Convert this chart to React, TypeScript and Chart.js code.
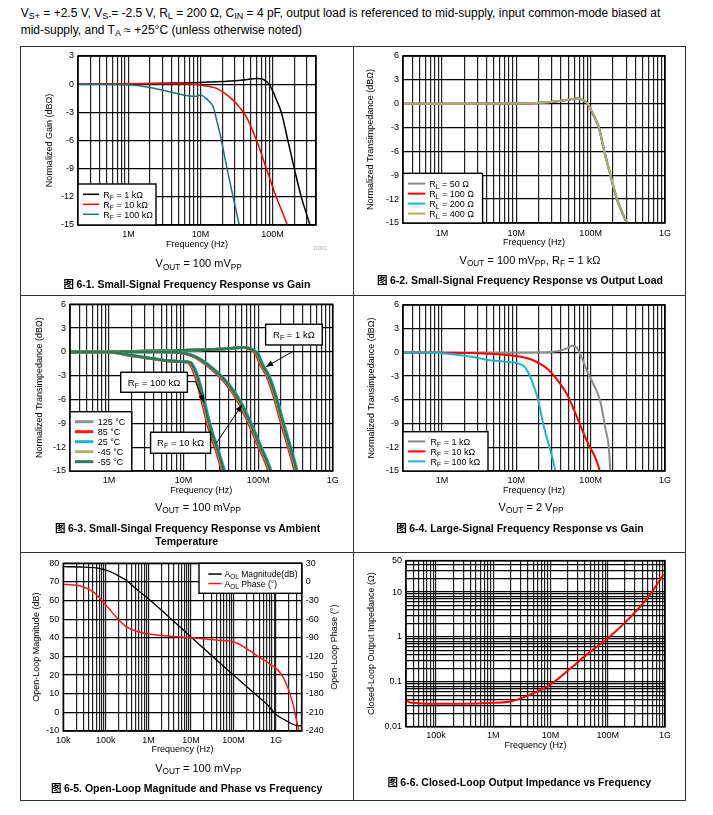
import React, { useEffect, useRef } from 'react';
import { Chart, registerables } from 'chart.js';

Chart.register(...registerables);

const FONT = '"Liberation Sans", Arial, Helvetica, sans-serif';
const CJK = '"Noto Sans CJK SC", "Liberation Sans", sans-serif';
Chart.defaults.font.family = FONT;
Chart.defaults.color = '#000';

const TICK_FS = 9;
const TITLE_FS = 9;

// ================= DATA =================
// Fig 6-1 Small-signal frequency response vs gain
const p1Rf1kFreq = [2e5, 1e6, 3e6, 1e7, 2e7, 3e7, 4.5e7, 6e7, 7e7, 8e7, 9e7, 1e8, 1.15e8, 1.32e8, 1.63e8, 2e8, 2.5e8, 3.3e8, 3.6e8];
const p1Rf1kGain = [0, 0.05, 0.1, 0.18, 0.28, 0.36, 0.5, 0.6, 0.57, 0.35, -0.05, -0.7, -1.8, -3, -6, -9, -12, -15, -16];
const p1Rf10kFreq = [2e5, 1e6, 5e6, 1e7, 1.67e7, 2.2e7, 2.83e7, 3.5e7, 4.34e7, 6e7, 8.2e7, 1.12e8, 1.6e8, 1.8e8];
const p1Rf10kGain = [0, 0.05, 0.05, -0.1, -0.45, -1, -1.7, -2.5, -3.5, -6, -9, -12, -15, -16.3];
const p1Rf100kFreq = [2e5, 5e5, 1e6, 2e6, 3e6, 5e6, 7e6, 8.5e6, 1e7, 1.15e7, 1.3e7, 1.5e7, 1.67e7, 1.86e7, 2.07e7, 2.41e7, 2.83e7, 3.45e7, 3.8e7];
const p1Rf100kGain = [0, -0.02, -0.07, -0.35, -0.65, -1.05, -1.25, -1.3, -1.15, -1.4, -1.8, -2.4, -3.8, -5.25, -7, -9.5, -12, -15, -16.5];
const p1XLabelVals = [1e6, 1e7, 1e8];
const p1XLabelText = ['1M', '10M', '100M'];

// Fig 6-2 Small-signal frequency response vs output load
const p2Freq = [3e5, 1e6, 1e7, 2e7, 4e7, 5.5e7, 6.6e7, 7.5e7, 8.5e7, 9e7, 1e8, 1.15e8, 1.29e8, 1.53e8, 1.85e8, 2.26e8, 3.07e8, 3.4e8];
const p2Rl50 = [0, 0, 0.03, 0.1, 0.35, 0.55, 0.62, 0.55, 0.25, 0.02, -0.75, -1.9, -3.05, -6.05, -9.05, -12.05, -15.05, -16];
const p2Rl100 = [0, 0, 0.03, 0.1, 0.36, 0.56, 0.64, 0.57, 0.28, 0.05, -0.7, -1.85, -3, -6, -9, -12, -15, -16];
const p2Rl200 = [0, 0, 0.03, 0.11, 0.37, 0.57, 0.65, 0.59, 0.3, 0.07, -0.68, -1.82, -2.97, -5.97, -8.97, -11.97, -14.97, -16];
const p2Rl400 = [0, 0, 0.03, 0.12, 0.38, 0.58, 0.66, 0.6, 0.32, 0.09, -0.65, -1.8, -2.95, -5.95, -8.95, -11.95, -14.95, -16];
const gXLabelVals = [1e6, 1e7, 1e8, 1e9];
const gXLabelText = ['1M', '10M', '100M', '1G'];

// Fig 6-3 Small-signal frequency response vs ambient temperature
const p3Rf1kFreq = [3e5, 1e6, 3e6, 1e7, 3e7, 5e7, 6.5e7, 8e7, 9.6e7, 1.12e8, 1.37e8, 1.69e8, 2.07e8, 2.54e8, 3.11e8, 3.4e8];
const p3Rf1kGain = [0, 0.02, 0.1, 0.2, 0.35, 0.5, 0.58, 0.35, -0.2, -1.6, -3.1, -5.6, -8.6, -11.5, -14.4, -16];
const p3Rf10kFreq = [3e5, 1e6, 5e6, 9e6, 1.3e7, 1.69e7, 2.54e7, 3.83e7, 5.46e7, 7.43e7, 1.01e8, 1.37e8, 1.6e8];
const p3Rf10kGain = [0, 0.02, 0, -0.1, -0.45, -1.0, -2.27, -3.95, -6.05, -8.56, -11.5, -14.4, -16.3];
const p3Rf100kFreq = [3e5, 1e6, 2.17e6, 3.6e6, 6.06e6, 9.1e6, 1.1e7, 1.24e7, 1.45e7, 1.69e7, 1.96e7, 2.29e7, 2.81e7, 3.38e7, 3.7e7];
const p3Rf100kGain = [0, -0.02, -0.5, -0.8, -1.1, -1.22, -1.25, -1.43, -2.7, -4.8, -7.3, -9.8, -12.3, -14.8, -16];
const p3Temps = ['125 °C', '85 °C', '25 °C', '-45 °C', '-55 °C'];
const p3TempColors = ['#8c8c8c', '#ff1a1a', '#19b6cc', '#b3ae72', '#2e7a55'];
const p3TempFreqScale = [0.985, 0.96, 1.04, 1.0, 1.015];
const p3NoteText = ['R_{F} = 1 kΩ', 'R_{F} = 100 kΩ', 'R_{F} = 10 kΩ'];
const p3NoteBoxFreq = [3.02e8, 4.02e6, 9.12e6];
const p3NoteBoxGain = [2.18, -3.82, -11.44];
const p3NotePathFreq = [[2.9e8, 1.28e8], [1.12e7, 1.45e7, 1.87e7], [2.75e7, 6.07e7]];
const p3NotePathGain = [[0.04, -1.86], [-3.74, -3.74, -6.33], [-11.5, -6.68]];

// Fig 6-4 Large-signal frequency response vs gain
const p4Rf1kFreq = [3e5, 1e6, 1e7, 3e7, 4.5e7, 5.7e7, 6.5e7, 7.3e7, 8e7, 9e7, 1.1e8, 1.35e8, 1.58e8, 1.76e8, 1.84e8, 1.9e8];
const p4Rf1kGain = [0, 0, 0, 0.05, 0.4, 0.85, 0.6, -0.3, -1.2, -2.4, -4.1, -6.2, -9.6, -12.1, -15, -16.5];
const p4Rf10kFreq = [3e5, 1e6, 3e6, 5.7e6, 1.17e7, 1.75e7, 2.64e7, 3.59e7, 4.87e7, 6.63e7, 9.01e7, 1.166e8, 1.33e8, 1.45e8];
const p4Rf10kGain = [0, -0.03, -0.1, -0.24, -0.54, -1.05, -2.1, -3.5, -5.4, -8.3, -11.3, -13.4, -15, -16.5];
const p4Rf100kFreq = [3e5, 1e6, 2.5e6, 4.2e6, 7e6, 1.05e7, 1.29e7, 1.58e7, 1.94e7, 2.38e7, 2.92e7, 3.35e7, 3.6e7];
const p4Rf100kGain = [0, -0.1, -0.55, -0.96, -1.17, -1.38, -1.8, -3.3, -5.8, -9.6, -12.6, -15, -16.5];

// Fig 6-5 Open-loop magnitude and phase
const p5MagFreq = [1e4, 3e4, 6e4, 1e5, 1.5e5, 2e5, 3e5, 5e5, 1e6, 1e7, 1e8, 3e8, 6e8, 1e9, 1.7e9, 3e9, 4e9];
const p5Mag = [78.2, 78, 77.5, 76.4, 74.8, 73.2, 71, 66.5, 61, 40.5, 20, 10.5, 4.5, -1.2, -4.4, -7, -7.2];
const p5PhaseFreq = [1e4, 2.9e4, 5e4, 1e5, 1.8e5, 3e5, 6.3e5, 1.1e6, 1e7, 3.9e7, 1.16e8, 3.4e8, 8.4e8, 1.2e9, 1.72e9, 2.46e9, 3.1e9, 3.6e9];
const p5Phase = [-3.8, -7.7, -15.7, -37, -57.6, -72, -81, -84.4, -89.8, -93.5, -97.8, -117.7, -135.4, -144.5, -163, -195, -227, -245];
const p5XLabelVals = [1e4, 1e5, 1e6, 1e7, 1e8, 1e9];
const p5XLabelText = ['10k', '100k', '1M', '10M', '100M', '1G'];

// Fig 6-6 Closed-loop output impedance
const p6Freq = [3e4, 3.3e4, 3.8e4, 5.5e4, 1e5, 3e5, 1e6, 2.1e6, 4.1e6, 1e7, 2.24e7, 4.46e7, 1e8, 2.24e8, 5e8, 9.3e8];
const p6Z = [0.043, 0.036, 0.034, 0.033, 0.0325, 0.0325, 0.034, 0.037, 0.05, 0.087, 0.2, 0.42, 0.93, 2.4, 7.5, 24];
const p6XLabelVals = [1e5, 1e6, 1e7, 1e8, 1e9];
const p6XLabelText = ['100k', '1M', '10M', '100M', '1G'];
const p6YLabelVals = [0.01, 0.1, 1, 10, 50];
const p6YLabelText = ['0.01', '0.1', '1', '10', '50'];

// ================= HELPERS =================
function decadeTicks(min: number, max: number): number[] {
  const out: number[] = [];
  const e0 = Math.floor(Math.log10(min));
  const e1 = Math.ceil(Math.log10(max));
  for (let e = e0; e <= e1; e++) {
    for (let m = 1; m <= 9; m++) {
      const v = parseFloat((m * Math.pow(10, e)).toPrecision(6));
      if (v >= min * 0.9999 && v <= max * 1.0001) out.push(v);
    }
  }
  return out;
}
function labelFor(v: number, vals: number[], texts: string[]) {
  const i = vals.findIndex((u) => Math.abs(u - v) / u < 1e-6);
  return i >= 0 ? texts[i] : '';
}
const pts = (xs: number[], ys: number[]) => xs.map((x, i) => ({ x, y: ys[i] }));

function parseRich(text: string) {
  const out: { t: string; sub: boolean }[] = [];
  const re = /_\{([^}]*)\}/g;
  let last = 0;
  let m: RegExpExecArray | null;
  while ((m = re.exec(text)) !== null) {
    if (m.index > last) out.push({ t: text.slice(last, m.index), sub: false });
    out.push({ t: m[1], sub: true });
    last = re.lastIndex;
  }
  if (last < text.length) out.push({ t: text.slice(last), sub: false });
  return out;
}
const fontStr = (fs: number) => `normal ${fs}px ${FONT}`;
function richWidth(ctx: CanvasRenderingContext2D, text: string, fs: number) {
  let w = 0;
  for (const p of parseRich(text)) {
    ctx.font = fontStr(p.sub ? fs * 0.75 : fs);
    w += ctx.measureText(p.t).width;
  }
  return w;
}
function drawRich(ctx: CanvasRenderingContext2D, text: string, x: number, baseline: number, fs: number, align: 'left' | 'center' = 'left') {
  let cx = align === 'center' ? x - richWidth(ctx, text, fs) / 2 : x;
  ctx.textAlign = 'left';
  ctx.textBaseline = 'alphabetic';
  for (const p of parseRich(text)) {
    const f = p.sub ? fs * 0.75 : fs;
    ctx.font = fontStr(f);
    ctx.fillText(p.t, cx, p.sub ? baseline + fs * 0.22 : baseline);
    cx += ctx.measureText(p.t).width;
  }
}

// ================= PLUGINS =================
const framePlugin = {
  id: 'frame',
  afterDatasetsDraw(chart: any) {
    const { ctx, chartArea: a } = chart;
    ctx.save();
    ctx.strokeStyle = '#000';
    ctx.lineWidth = 1.6;
    ctx.strokeRect(a.left, a.top, a.right - a.left, a.bottom - a.top);
    ctx.restore();
  },
};

const richLegendPlugin = {
  id: 'richLegend',
  afterDraw(chart: any, _args: any, o: any) {
    if (!o || !o.w) return;
    const ctx: CanvasRenderingContext2D = chart.ctx;
    const a = chart.chartArea;
    const items = chart.data.datasets.filter((d: any) => d.inLegend);
    const x = o.corner === 'tr' ? a.right - o.w : a.left;
    const y = o.corner === 'tr' ? a.top : a.bottom - o.h;
    ctx.save();
    ctx.fillStyle = '#fff';
    ctx.fillRect(x, y, o.w, o.h);
    ctx.strokeStyle = '#000';
    ctx.lineWidth = 1.4;
    ctx.strokeRect(x, y, o.w, o.h);
    items.forEach((d: any, i: number) => {
      const cy = y + o.padT + o.rowH * (i + 0.5);
      ctx.strokeStyle = d.borderColor;
      ctx.lineWidth = o.lineWidth;
      ctx.beginPath();
      ctx.moveTo(x + o.padL, cy);
      ctx.lineTo(x + o.padL + o.lineLen, cy);
      ctx.stroke();
      ctx.fillStyle = '#000';
      drawRich(ctx, d.label, x + o.padL + o.lineLen + o.gap, cy + o.fs * 0.36, o.fs);
    });
    ctx.restore();
  },
};

const notesPlugin = {
  id: 'notes',
  afterDraw(chart: any, _args: any, o: any) {
    const items = (o && o.items) || [];
    if (!items.length) return;
    const xs = chart.scales.x;
    const ys = chart.scales.y;
    const ctx: CanvasRenderingContext2D = chart.ctx;
    ctx.save();
    for (const n of items) {
      const path = n.pathF.map((f: number, i: number) => [xs.getPixelForValue(f), ys.getPixelForValue(n.pathG[i])]);
      ctx.strokeStyle = '#000';
      ctx.lineWidth = 1;
      ctx.beginPath();
      path.forEach(([px, py]: number[], i: number) => (i ? ctx.lineTo(px, py) : ctx.moveTo(px, py)));
      ctx.stroke();
      const [x2, y2] = path[path.length - 1];
      const [x1, y1] = path[path.length - 2];
      const ang = Math.atan2(y2 - y1, x2 - x1);
      const L = 7;
      const W = 3;
      ctx.fillStyle = '#000';
      ctx.beginPath();
      ctx.moveTo(x2, y2);
      ctx.lineTo(x2 - L * Math.cos(ang) + W * Math.sin(ang), y2 - L * Math.sin(ang) - W * Math.cos(ang));
      ctx.lineTo(x2 - L * Math.cos(ang) - W * Math.sin(ang), y2 - L * Math.sin(ang) + W * Math.cos(ang));
      ctx.closePath();
      ctx.fill();
      const cx = xs.getPixelForValue(n.f);
      const cy = ys.getPixelForValue(n.g);
      ctx.fillStyle = '#fff';
      ctx.fillRect(cx - n.w / 2, cy - n.h / 2, n.w, n.h);
      ctx.lineWidth = 1.4;
      ctx.strokeStyle = '#000';
      ctx.strokeRect(cx - n.w / 2, cy - n.h / 2, n.w, n.h);
      ctx.fillStyle = '#000';
      drawRich(ctx, n.text, cx, cy + 9.5 * 0.36, 9.5, 'center');
    }
    ctx.restore();
  },
};

const rightTitlePlugin = {
  id: 'rightTitle',
  afterDraw(chart: any, _args: any, o: any) {
    if (!o || !o.text) return;
    const ctx: CanvasRenderingContext2D = chart.ctx;
    const a = chart.chartArea;
    ctx.save();
    ctx.translate(o.x, (a.top + a.bottom) / 2);
    ctx.rotate(-Math.PI / 2);
    ctx.font = fontStr(TITLE_FS);
    ctx.fillStyle = '#000';
    ctx.textAlign = 'center';
    ctx.textBaseline = 'middle';
    ctx.fillText(o.text, 0, 0);
    ctx.restore();
  },
};

// ================= CONFIG BUILDER =================
type Geo = {
  cL: number; cT: number; cW: number; cH: number;
  pL: number; pT: number; pR: number; pB: number;
  yTitleX: number; xTitleY: number; xTickY: number; y2TitleX?: number;
};
type Spec = {
  geo: Geo;
  datasets: any[];
  xMin: number; xMax: number; xLabelVals: number[]; xLabelText: string[];
  yType: 'linear' | 'logarithmic'; yMin: number; yMax: number; yStep?: number;
  yLabelVals?: number[]; yLabelText?: string[]; yTitle: string;
  y2?: { min: number; max: number; step: number; title: string };
  legend: any;
  notes?: any[];
};

function zeroPad(sc: any) {
  sc.paddingLeft = 0;
  sc.paddingRight = 0;
  sc.paddingTop = 0;
  sc.paddingBottom = 0;
}

function buildConfig(s: Spec): any {
  const g = s.geo;
  const tlh = TITLE_FS * 1.2;
  const klh = TICK_FS * 1.2;
  const xH = g.xTitleY + tlh / 2 - g.pB;
  const yW = g.pL - g.cL;
  const rightW = g.cL + g.cW - g.pR;
  const scales: any = {
    x: {
      type: 'logarithmic',
      min: s.xMin,
      max: s.xMax,
      afterBuildTicks: (sc: any) => {
        sc.ticks = decadeTicks(s.xMin, s.xMax).map((v) => ({ value: v }));
      },
      afterFit: (sc: any) => {
        sc.height = xH;
        zeroPad(sc);
      },
      grid: { color: '#222', lineWidth: 1.2, drawTicks: false },
      border: { display: false },
      ticks: {
        autoSkip: false,
        maxRotation: 0,
        minRotation: 0,
        padding: g.xTickY - g.pB - klh / 2,
        font: { size: TICK_FS },
        color: '#000',
        callback: (v: any) => labelFor(Number(v), s.xLabelVals, s.xLabelText),
      },
      title: { display: true, text: 'Frequency (Hz)', font: { size: TITLE_FS }, color: '#000', padding: { top: 0, bottom: 0 } },
    },
    y: {
      type: s.yType,
      position: 'left',
      min: s.yMin,
      max: s.yMax,
      afterFit: (sc: any) => {
        sc.width = yW;
        zeroPad(sc);
      },
      grid: { color: '#000', lineWidth: 1.3, drawTicks: false },
      border: { display: false },
      ticks: {
        autoSkip: false,
        padding: 4,
        font: { size: TICK_FS },
        color: '#000',
        stepSize: s.yStep,
        callback: (v: any) =>
          s.yType === 'logarithmic' ? labelFor(Number(v), s.yLabelVals || [], s.yLabelText || []) : String(v),
      },
      title: {
        display: true,
        text: s.yTitle,
        font: { size: TITLE_FS },
        color: '#000',
        padding: { top: g.yTitleX - g.cL - tlh / 2, bottom: 0 },
      },
    },
  };
  if (s.yType === 'logarithmic') {
    scales.y.afterBuildTicks = (sc: any) => {
      sc.ticks = decadeTicks(s.yMin, s.yMax).map((v) => ({ value: v }));
    };
  }
  if (s.y2) {
    const y2 = s.y2;
    scales.y2 = {
      type: 'linear',
      position: 'right',
      min: y2.min,
      max: y2.max,
      afterFit: (sc: any) => {
        sc.width = rightW;
        zeroPad(sc);
      },
      grid: { display: false, drawTicks: false },
      border: { display: false },
      ticks: { autoSkip: false, padding: 4, stepSize: y2.step, font: { size: TICK_FS }, color: '#000', callback: (v: any) => String(v) },
      title: { display: false },
    };
  }
  return {
    type: 'line',
    data: { datasets: s.datasets },
    options: {
      responsive: false,
      maintainAspectRatio: false,
      animation: false,
      events: [],
      layout: {
        padding: {
          left: 0,
          top: g.pT - g.cT,
          right: s.y2 ? 0 : rightW,
          bottom: g.cT + g.cH - (g.pB + xH),
        },
      },
      elements: {
        point: { radius: 0 },
        line: { cubicInterpolationMode: 'monotone', borderCapStyle: 'round', borderJoinStyle: 'round' },
      },
      plugins: {
        legend: { display: false },
        tooltip: { enabled: false },
        richLegend: s.legend,
        notes: { items: s.notes || [] },
        rightTitle: s.y2 && g.y2TitleX ? { text: s.y2.title, x: g.y2TitleX - g.cL } : { text: '' },
      },
      scales,
    },
    plugins: [framePlugin, richLegendPlugin, notesPlugin, rightTitlePlugin],
  };
}

function ds(label: string, xs: number[], ys: number[], color: string, width: number, idx: number, inLegend = true, extra: any = {}) {
  return { label, data: pts(xs, ys), borderColor: color, borderWidth: width, fill: false, order: -idx, inLegend, ...extra };
}

// ================= PANEL SPECS =================
const spec1: Spec = {
  geo: { cL: 22, cT: 48, cW: 330, cH: 246, pL: 78, pT: 56, pR: 316, pB: 225, yTitleX: 50, xTitleY: 245, xTickY: 235 },
  datasets: [
    ds('R_{F} = 1 kΩ', p1Rf1kFreq, p1Rf1kGain, '#000000', 1.5, 0),
    ds('R_{F} = 10 kΩ', p1Rf10kFreq, p1Rf10kGain, '#ff0000', 1.5, 1),
    ds('R_{F} = 100 kΩ', p1Rf100kFreq, p1Rf100kGain, '#23707f', 1.5, 2),
  ],
  xMin: 2e5, xMax: 4e8, xLabelVals: p1XLabelVals, xLabelText: p1XLabelText,
  yType: 'linear', yMin: -15, yMax: 3, yStep: 3, yTitle: 'Normalized Gain (dBΩ)',
  legend: { corner: 'bl', w: 78, h: 41, padT: 5.3, rowH: 10, padL: 5, lineLen: 16, gap: 4.3, fs: 9, lineWidth: 1.5 },
};

const spec2: Spec = {
  geo: { cL: 355, cT: 48, cW: 329, cH: 246, pL: 403, pT: 56, pR: 665, pB: 223, yTitleX: 370.7, xTitleY: 242.3, xTickY: 233.3 },
  datasets: [
    ds('R_{L} = 50 Ω', p2Freq, p2Rl50, '#8c8c8c', 2, 0),
    ds('R_{L} = 100 Ω', p2Freq, p2Rl100, '#ff0000', 2, 1),
    ds('R_{L} = 200 Ω', p2Freq, p2Rl200, '#19b6cc', 2, 2),
    ds('R_{L} = 400 Ω', p2Freq, p2Rl400, '#b0ab6c', 2, 3),
  ],
  xMin: 3e5, xMax: 1e9, xLabelVals: gXLabelVals, xLabelText: gXLabelText,
  yType: 'linear', yMin: -15, yMax: 6, yStep: 3, yTitle: 'Normalized Transimpedance (dBΩ)',
  legend: { corner: 'bl', w: 79.6, h: 49.7, padT: 5.3, rowH: 10, padL: 5, lineLen: 17.3, gap: 4, fs: 9, lineWidth: 2 },
};

const p3Groups = [
  { f: p3Rf1kFreq, g: p3Rf1kGain },
  { f: p3Rf10kFreq, g: p3Rf10kGain },
  { f: p3Rf100kFreq, g: p3Rf100kGain },
];
const p3Datasets: any[] = [];
p3Groups.forEach((grp, gi) => {
  p3Temps.forEach((t, ti) => {
    p3Datasets.push(
      ds(t, grp.f.map((f) => f * p3TempFreqScale[ti]), grp.g, p3TempColors[ti], 2.8, gi * 5 + ti, gi === 0)
    );
  });
});

const spec3: Spec = {
  geo: { cL: 22, cT: 297, cW: 330, cH: 254, pL: 70, pT: 304.3, pR: 332.7, pB: 471, yTitleX: 39.3, xTitleY: 490.7, xTickY: 481 },
  datasets: p3Datasets,
  xMin: 3e5, xMax: 1e9, xLabelVals: gXLabelVals, xLabelText: gXLabelText,
  yType: 'linear', yMin: -15, yMax: 6, yStep: 3, yTitle: 'Normalized Transimpedance (dBΩ)',
  legend: { corner: 'bl', w: 61.7, h: 59.3, padT: 5, rowH: 10, padL: 5, lineLen: 18.3, gap: 4.4, fs: 9, lineWidth: 3 },
  notes: p3NoteText.map((text, i) => ({
    text,
    f: p3NoteBoxFreq[i],
    g: p3NoteBoxGain[i],
    w: [56.6, 66.7, 60][i],
    h: [20.7, 20, 21][i],
    pathF: p3NotePathFreq[i],
    pathG: p3NotePathGain[i],
  })),
};

const spec4: Spec = {
  geo: { cL: 355, cT: 297, cW: 329, cH: 254, pL: 403, pT: 305, pR: 665, pB: 471, yTitleX: 371.7, xTitleY: 491, xTickY: 480.7 },
  datasets: [
    ds('R_{F} = 1 kΩ', p4Rf1kFreq, p4Rf1kGain, '#8c8c8c', 2, 0),
    ds('R_{F} = 10 kΩ', p4Rf10kFreq, p4Rf10kGain, '#ff0000', 2, 1),
    ds('R_{F} = 100 kΩ', p4Rf100kFreq, p4Rf100kGain, '#19b6cc', 2, 2),
  ],
  xMin: 3e5, xMax: 1e9, xLabelVals: gXLabelVals, xLabelText: gXLabelText,
  yType: 'linear', yMin: -15, yMax: 6, yStep: 3, yTitle: 'Normalized Transimpedance (dBΩ)',
  legend: { corner: 'bl', w: 85, h: 39.3, padT: 4.7, rowH: 10, padL: 5, lineLen: 17.3, gap: 5.3, fs: 9, lineWidth: 2 },
};

const spec5: Spec = {
  geo: { cL: 22, cT: 554, cW: 330, cH: 245, pL: 63.3, pT: 563.3, pR: 301.7, pB: 731, yTitleX: 36.7, xTitleY: 749.3, xTickY: 741, y2TitleX: 335 },
  datasets: [
    ds('A_{OL} Magnitude(dB)', p5MagFreq, p5Mag, '#000000', 1.3, 0, true, { yAxisID: 'y' }),
    ds('A_{OL} Phase (°)', p5PhaseFreq, p5Phase, '#ff1a1a', 1.5, 1, true, { yAxisID: 'y2' }),
  ],
  xMin: 1e4, xMax: 4e9, xLabelVals: p5XLabelVals, xLabelText: p5XLabelText,
  yType: 'linear', yMin: -10, yMax: 80, yStep: 10, yTitle: 'Open-Loop Magnitude (dB)',
  y2: { min: -240, max: 30, step: 30, title: 'Open-Loop Phase (°)' },
  legend: { corner: 'tr', w: 102.7, h: 30, padT: 6, rowH: 9.5, padL: 9.3, lineLen: 13.4, gap: 2.8, fs: 8.6, lineWidth: 1.5 },
};

const spec6: Spec = {
  geo: { cL: 355, cT: 554, cW: 329, cH: 245, pL: 406, pT: 560.7, pR: 665, pB: 726.7, yTitleX: 371.7, xTitleY: 745.3, xTickY: 735.7 },
  datasets: [ds('Z', p6Freq, p6Z, '#ff0000', 2, 0, false)],
  xMin: 3e4, xMax: 1e9, xLabelVals: p6XLabelVals, xLabelText: p6XLabelText,
  yType: 'logarithmic', yMin: 0.01, yMax: 50, yLabelVals: p6YLabelVals, yLabelText: p6YLabelText,
  yTitle: 'Closed-Loop Output Impedance (Ω)',
  legend: null,
};

// ================= COMPONENTS =================
function ChartCanvas({ spec }: { spec: Spec }) {
  const ref = useRef<HTMLCanvasElement>(null);
  useEffect(() => {
    const chart = new Chart(ref.current as HTMLCanvasElement, buildConfig(spec));
    return () => chart.destroy();
  }, []);
  const g = spec.geo;
  return (
    <canvas
      ref={ref}
      width={g.cW}
      height={g.cH}
      style={{ position: 'absolute', left: g.cL, top: g.cT, width: g.cW, height: g.cH }}
    />
  );
}

function Rich({ text }: { text: string }) {
  return (
    <>
      {parseRich(text).map((p, i) =>
        p.sub ? (
          <span key={i} style={{ fontSize: '0.75em', position: 'relative', top: '0.28em' }}>{p.t}</span>
        ) : (
          <span key={i}>{p.t}</span>
        )
      )}
    </>
  );
}

function TextAt({ x, y, size, bold, align = 'center', color = '#000', text, fig }: any) {
  return (
    <div
      style={{
        position: 'absolute',
        left: x,
        top: y - size * 0.6,
        height: size * 1.2,
        lineHeight: `${size * 1.2}px`,
        fontSize: size,
        fontFamily: FONT,
        fontWeight: bold ? 'bold' : 'normal',
        whiteSpace: 'nowrap',
        color,
        transform: align === 'center' ? 'translateX(-50%)' : undefined,
      }}
    >
      {fig ? <span style={{ fontFamily: CJK, fontWeight: 'bold' }}>图 </span> : null}
      <Rich text={text} />
    </div>
  );
}

function Line({ x, y, w, h }: any) {
  return <div style={{ position: 'absolute', left: x, top: y, width: w, height: h, background: '#333' }} />;
}

export default function App() {
  return (
    <div style={{ position: 'absolute', left: 0, top: 0, width: 713, height: 815, background: '#fff', overflow: 'hidden' }}>
      <TextAt x={20.7} y={13} size={12} align="left"
        text="V_{S+} = +2.5 V, V_{S-}= -2.5 V, R_{L} = 200 Ω, C_{IN} = 4 pF, output load is referenced to mid-supply, input common-mode biased at" />
      <TextAt x={20.7} y={30} size={12} align="left" text="mid-supply, and T_{A} ≈ +25°C (unless otherwise noted)" />

      <Line x={20} y={46} w={666} h={1} />
      <Line x={20} y={295} w={666} h={1} />
      <Line x={20} y={552} w={666} h={1} />
      <Line x={20} y={800} w={666} h={1} />
      <Line x={20} y={46} w={1} h={755} />
      <Line x={353} y={46} w={1} h={755} />
      <Line x={685} y={46} w={1} h={755} />

      <ChartCanvas spec={spec1} />
      <ChartCanvas spec={spec2} />
      <ChartCanvas spec={spec3} />
      <ChartCanvas spec={spec4} />
      <ChartCanvas spec={spec5} />
      <ChartCanvas spec={spec6} />

      <TextAt x={320.5} y={249} size={6} color="#b0b0b0" text="D001" />
      <TextAt x={198.7} y={264} size={11} text="V_{OUT} = 100 mV_{PP}" />
      <TextAt x={187} y={284.3} size={10.5} bold fig text="6-1. Small-Signal Frequency Response vs Gain" />

      <TextAt x={530} y={260.7} size={11} text="V_{OUT} = 100 mV_{PP}, R_{F} = 1 kΩ" />
      <TextAt x={520} y={280.7} size={10.5} bold fig text="6-2. Small-Signal Frequency Response vs Output Load" />

      <TextAt x={198} y={507.3} size={11} text="V_{OUT} = 100 mV_{PP}" />
      <TextAt x={187.7} y={528.3} size={10.5} bold fig text="6-3. Small-Singal Frequency Response vs Ambient" />
      <TextAt x={186.7} y={541.7} size={10.5} bold text="Temperature" />

      <TextAt x={531} y={507.3} size={11} text="V_{OUT} = 2 V_{PP}" />
      <TextAt x={520} y={528.3} size={10.5} bold fig text="6-4. Large-Signal Frequency Response vs Gain" />

      <TextAt x={198.3} y={768.3} size={11} text="V_{OUT} = 100 mV_{PP}" />
      <TextAt x={186.7} y={788.3} size={10.5} bold fig text="6-5. Open-Loop Magnitude and Phase vs Frequency" />

      <TextAt x={519.3} y={782.3} size={10.5} bold fig text="6-6. Closed-Loop Output Impedance vs Frequency" />
    </div>
  );
}
